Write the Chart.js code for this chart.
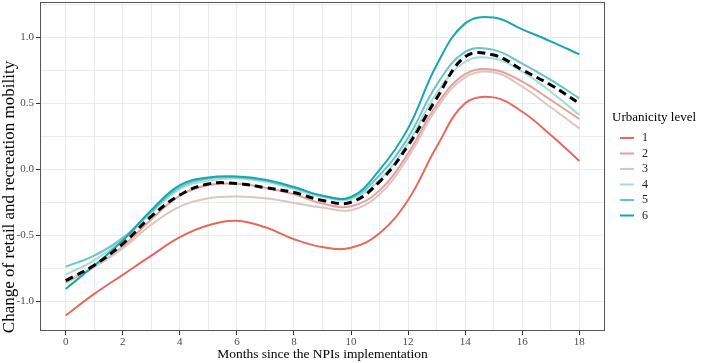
<!DOCTYPE html>
<html>
<head>
<meta charset="utf-8">
<script src="https://cdn.jsdelivr.net/npm/chart.js@4/dist/chart.umd.min.js"></script>
<style>
  html, body { margin: 0; padding: 0; background: #ffffff; }
  #wrap { width: 708px; height: 363px; position: relative; }
</style>
</head>
<body>
<div id="wrap"><canvas id="c" width="708" height="363"></canvas></div>
<script>
// ---- data ----
const months = [0,1,2,3,4,5,6,7,8,9,10,11,12,13,14,15,16,17,18];
const level1 = [-1.109,-0.945,-0.80,-0.655,-0.515,-0.425,-0.39,-0.44,-0.53,-0.59,-0.595,-0.485,-0.233,0.17,0.50,0.545,0.436,0.26,0.063];
const level2 = [-0.86,-0.74,-0.585,-0.38,-0.20,-0.12,-0.11,-0.14,-0.19,-0.26,-0.28,-0.16,0.12,0.487,0.722,0.755,0.664,0.525,0.381];
const level3 = [-0.85,-0.74,-0.60,-0.42,-0.283,-0.22,-0.207,-0.22,-0.255,-0.29,-0.31,-0.19,0.09,0.46,0.697,0.735,0.626,0.47,0.31];
const level4 = [-0.80,-0.69,-0.535,-0.33,-0.15,-0.085,-0.07,-0.095,-0.15,-0.21,-0.225,-0.08,0.20,0.576,0.815,0.84,0.74,0.588,0.411];
const level5 = [-0.738,-0.655,-0.52,-0.32,-0.135,-0.07,-0.06,-0.085,-0.14,-0.20,-0.215,-0.045,0.24,0.64,0.89,0.905,0.80,0.677,0.538];
const level6 = [-0.907,-0.73,-0.54,-0.31,-0.12,-0.063,-0.055,-0.08,-0.135,-0.20,-0.21,-0.005,0.31,0.79,1.106,1.15,1.06,0.97,0.871];
const overall = [-0.844,-0.728,-0.565,-0.357,-0.195,-0.111,-0.108,-0.14,-0.176,-0.236,-0.25,-0.094,0.18,0.538,0.853,0.866,0.753,0.639,0.50];
const levelNames = ['1','2','3','4','5','6'];
const levelColors = ['#E8685D','#E4A09A','#DCC6C4','#A6DBDA','#68C6C8','#17A8AF'];
const xTicks = [0,1,2,3,4,5,6,7,8,9,10,11,12,13,14,15,16,17,18];
const yTicks = [-1.0,-0.75,-0.5,-0.25,0.0,0.25,0.5,0.75,1.0,1.25];
const legendTitle = 'Urbanicity level';
const xTitle = 'Months since the NPIs implementation';
const yTitle = 'Change of retail and recreation mobility';

const seriesValues = [level1, level2, level3, level4, level5, level6];
const toPts = arr => months.map((m, i) => ({x: m, y: arr[i]}));

const datasets = [];
datasets.push({
  label: 'overall', data: toPts(overall), borderColor: '#000000', borderWidth: 3,
  borderDash: [8, 5], pointRadius: 0, tension: 0.4, fill: false, order: 0
});
seriesValues.forEach((arr, k) => {
  datasets.push({
    label: levelNames[k], data: toPts(arr), borderColor: levelColors[k], borderWidth: 2,
    pointRadius: 0, tension: 0.4, fill: false, order: 6 - k + 1
  });
});

const SERIF = '"Liberation Serif", "DejaVu Serif", serif';

const panelBorder = {
  id: 'panelBorder',
  afterDatasetsDraw(chart) {
    const {ctx, chartArea: a} = chart;
    ctx.save();
    ctx.strokeStyle = '#555555';
    ctx.lineWidth = 1;
    ctx.strokeRect(Math.round(a.left) + 0.5, Math.round(a.top) + 0.5,
                   Math.round(a.right - a.left) - 1, Math.round(a.bottom - a.top) - 1);
    ctx.restore();
  }
};

const extraText = {
  id: 'extraText',
  afterDraw(chart) {
    const ctx = chart.ctx;
    ctx.save();
    // y-axis title
    ctx.translate(10, 197);
    ctx.rotate(-Math.PI / 2);
    ctx.fillStyle = '#000000';
    ctx.font = '17px ' + SERIF;
    ctx.textAlign = 'center';
    ctx.textBaseline = 'middle';
    ctx.fillText(yTitle, 0, 0);
    ctx.restore();

    ctx.save();
    ctx.fillStyle = '#000000';
    ctx.font = '13px ' + SERIF;
    ctx.textBaseline = 'middle';
    ctx.textAlign = 'left';
    ctx.fillText(legendTitle, 612, 118);
    ctx.font = '12px ' + SERIF;
    levelNames.forEach((name, i) => {
      const y = 138 + i * 15.5;
      ctx.strokeStyle = levelColors[i];
      ctx.lineWidth = 2;
      ctx.beginPath();
      ctx.moveTo(620, y);
      ctx.lineTo(634, y);
      ctx.stroke();
      ctx.fillStyle = '#1a1a1a';
      ctx.fillText(name, 642, y);
    });
    ctx.restore();
  }
};

new Chart(document.getElementById('c'), {
  type: 'line',
  data: { datasets },
  options: {
    responsive: false,
    animation: false,
    devicePixelRatio: 1,
    layout: { autoPadding: false, padding: { left: 0, top: 2, right: 103, bottom: 0 } },
    plugins: { legend: { display: false }, tooltip: { enabled: false } },
    scales: {
      x: {
        type: 'linear', min: -0.9, max: 18.9,
        afterBuildTicks: axis => { axis.ticks = xTicks.map(v => ({value: v})); },
        afterFit: s => { s.height = 32; s.paddingLeft = 0; s.paddingRight = 0; s.paddingTop = 0; s.paddingBottom = 0; },
        ticks: {
          autoSkip: false, maxRotation: 0, padding: 1,
          color: '#4d4d4d', font: { family: SERIF, size: 11 },
          callback: v => (v % 2 === 0 ? String(v) : '')
        },
        grid: {
          color: '#ebebeb', lineWidth: 1, tickLength: 4,
          tickColor: ctx => (ctx.tick && ctx.tick.value % 2 === 0 ? '#333333' : 'rgba(0,0,0,0)')
        },
        border: { display: false },
        title: {
          display: true, text: xTitle, color: '#000000',
          font: { family: SERIF, size: 13.5 }, padding: { top: 0, bottom: 0 }
        }
      },
      y: {
        type: 'linear', min: -1.226, max: 1.268,
        afterBuildTicks: axis => { axis.ticks = yTicks.map(v => ({value: v})); },
        afterFit: s => { s.width = 40; s.paddingTop = 0; s.paddingBottom = 0; s.paddingLeft = 0; s.paddingRight = 0; },
        ticks: {
          autoSkip: false, padding: 2,
          color: '#4d4d4d', font: { family: SERIF, size: 11 },
          callback: v => (Math.abs(v * 2 - Math.round(v * 2)) < 1e-9 ? v.toFixed(1) : '')
        },
        grid: {
          color: '#ebebeb', lineWidth: 1, tickLength: 4,
          tickColor: ctx => (ctx.tick && Math.abs(ctx.tick.value * 2 - Math.round(ctx.tick.value * 2)) < 1e-9 ? '#333333' : 'rgba(0,0,0,0)')
        },
        border: { display: false },
        title: { display: false }
      }
    }
  },
  plugins: [panelBorder, extraText]
});
</script>
</body>
</html>
